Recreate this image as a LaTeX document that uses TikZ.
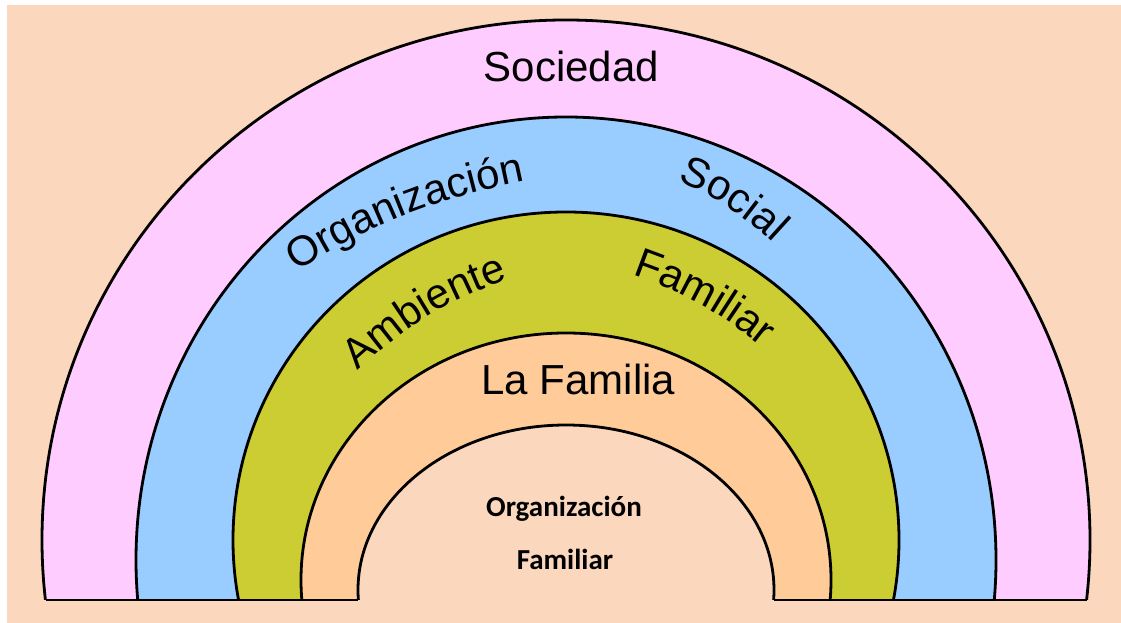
\documentclass[tikz,border=0pt]{standalone}
\usepackage{fontspec}
\setmainfont{Liberation Sans}
\newfontfamily\calibrifont{Carlito}
\usetikzlibrary{decorations.text}

\definecolor{bgpeach}{RGB}{250,215,189}
\definecolor{sociedadpink}{RGB}{255,204,255}
\definecolor{socialblue}{RGB}{153,204,255}
\definecolor{ambientegreen}{RGB}{204,204,51}
\definecolor{familiaorange}{RGB}{255,204,153}

\newcommand{\bandfont}{\fontsize{42}{50}\selectfont}
\newcommand{\innerfont}{\calibrifont\bfseries\fontsize{29}{35}\selectfont}

\tikzstyle{band} = [draw=black, line width=2.8pt]
\tikzstyle{bandlabel} = [anchor=base, inner sep=0pt, font=\bandfont]
\tikzstyle{innerlabel} = [anchor=base, inner sep=0pt, font=\innerfont]
\tikzstyle{curvetext} = [decorate, decoration={text along path, text align=center}]

\begin{document}
\begin{tikzpicture}[x=1pt, y=1pt]
\useasboundingbox (0,0) rectangle (1121,623);
\fill[bgpeach] (7,0) rectangle (1121,618);

% bands, outside in
\begin{scope}
\clip (0,23) rectangle (1121,623);
\filldraw[band, fill=sociedadpink] (566,83) ellipse [x radius=524, y radius=520];
\filldraw[band, fill=socialblue] (566,63) ellipse [x radius=430, y radius=443];
\filldraw[band, fill=ambientegreen] (566,83) ellipse [x radius=333, y radius=328];
\filldraw[band, fill=familiaorange] (566,43) ellipse [x radius=265, y radius=247];
\filldraw[band, fill=bgpeach] (566,33) ellipse [x radius=208, y radius=165];
\end{scope}

\coordinate (base_l) at (45.5,23);
\coordinate (hole_l) at (358.4,23);
\coordinate (hole_r) at (773.6,23);
\coordinate (base_r) at (1086.5,23);
\draw[band] (base_l) -- (hole_l);
\draw[band] (hole_r) -- (base_r);

\node (sociedad) [bandlabel] at (571.5,541) {Sociedad};
\node (lafamilia) [bandlabel] at (578.5,228) {La Familia};
\node (orgfam1) [innerlabel] at (564,106) {Organización};
\node (orgfam2) [innerlabel] at (565,53) {Familiar};

\coordinate (org_a) at (297,352);
\coordinate (org_b) at (525,442);
\coordinate (soc_a) at (675,443);
\coordinate (soc_b) at (775,378);
\coordinate (amb_a) at (358,252);
\coordinate (amb_b) at (508,344);
\coordinate (fam_a) at (627,350);
\coordinate (fam_b) at (766,273);

\path[curvetext, decoration={text={|\bandfont|Organización}}] (org_a) to[bend left=10] (org_b);
\path[curvetext, decoration={text={|\bandfont|Social}}] (soc_a) to[bend left=10] (soc_b);
\path[curvetext, decoration={text={|\bandfont|Ambiente}}] (amb_a) to[bend left=11] (amb_b);
\path[curvetext, decoration={text={|\bandfont|Familiar}}] (fam_a) to[bend left=10] (fam_b);

\end{tikzpicture}
\end{document}
